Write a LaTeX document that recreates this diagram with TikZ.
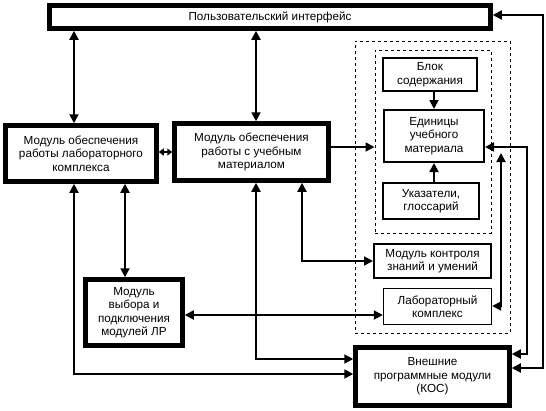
\documentclass[tikz,border=0pt]{standalone}
\usepackage{fontspec}
\setmainfont{Liberation Sans}
\usetikzlibrary{arrows.meta,positioning}

\begin{document}
\begin{tikzpicture}[x=1pt,y=-1pt,
  font=\fontsize{11.7}{13.5}\selectfont,
  heavybox/.style={draw,line width=4.5pt,align=center,inner sep=0pt},
  midbox/.style={draw,line width=2pt,align=center,inner sep=0pt},
  thinbox/.style={draw,line width=1.4pt,align=center,inner sep=0pt},
  groupbox/.style={draw,dashed,line width=1pt,inner sep=0pt},
  link/.style={line width=1.8pt,{Triangle[length=9pt,width=9pt]}-{Triangle[length=9pt,width=9pt]}},
  into/.style={line width=1.8pt,-{Triangle[length=9pt,width=9pt]}}]
  \useasboundingbox (0,0) rectangle (546,410);

  % Dashed groups
  \node[groupbox,minimum width=155pt,minimum height=292pt] (outer) at (432.5,187) {};
  \node[groupbox,minimum width=116pt,minimum height=183pt] (inner) at (433,141.5) {};

  % Main modules
  \node[heavybox,minimum width=441pt,minimum height=23pt] (ui) at (270,17) {Пользовательский интерфейс};
  \node[heavybox,minimum width=151pt,minimum height=56pt] (labmod) at (81,153.5) {Модуль обеспечения\\работы лабораторного\\комплекса};
  \node[heavybox,minimum width=154pt,minimum height=57pt] (matmod) at (251.5,152) {Модуль обеспечения\\работы с учебным\\материалом};
  \node[heavybox,minimum width=97pt,minimum height=66pt] (select) at (134,312.5) {Модуль\\выбора и\\подключения\\модулей ЛР};
  \node[heavybox,minimum width=154pt,minimum height=58pt] (extern) at (432.5,376.5) {Внешние\\программные модули\\(КОС)};

  % Content of the material
  \node[midbox,minimum width=94pt,minimum height=33pt] (contents) at (430,74.5) {Блок\\содержания};
  \node[midbox,minimum width=100pt,minimum height=52pt] (units) at (434,136) {Единицы\\учебного\\материала};
  \node[midbox,minimum width=96pt,minimum height=36pt] (index) at (431,201) {Указатели,\\глоссарий};
  \node[midbox,minimum width=117pt,minimum height=34pt] (control) at (432.5,261) {Модуль контроля\\знаний и умений};
  \node[thinbox,minimum width=108pt,minimum height=36pt] (lab) at (437.5,306.5) {Лабораторный\\комплекс};

  % Columns of the connectors
  \coordinate (xa) at (74,0);
  \coordinate (xb) at (125,0);
  \coordinate (xc) at (256,0);
  \coordinate (xd) at (302,0);
  \coordinate (xe) at (501,0);
  \coordinate (xf) at (527,0);
  \coordinate (xg) at (543,0);

  % Interface links
  \draw[link] (ui.south -| xa) -- (labmod.north -| xa);
  \draw[link] (ui.south -| xc) -- (matmod.north -| xc);
  \draw[line width=1.8pt,{Triangle[length=5pt,width=7pt]}-{Triangle[length=5pt,width=7pt]}] (labmod.east |- matmod) -- (matmod.west);
  \draw[into] (matmod.east |- 0,147) -- (inner.west |- 0,147);

  % Down to the lower modules
  \draw[link] (labmod.south -| xb) -- (select.north -| xb);
  \draw[link] (labmod.south -| xa) |- (extern.west |- 0,374);
  \draw[link] (matmod.south -| xc) |- (extern.west |- 0,359);
  \draw[link] (matmod.south -| xd) |- (control.west);
  \draw[link] (select.east |- 0,315) -- (lab.west |- 0,315);

  % Inside the material block
  \draw[into] (contents.south -| units) -- (units.north);
  \draw[into] (index.north -| units) -- (units.south);

  % Right-hand return lines
  \draw[link] (units.east |- 0,147) -| (xf |- 0,354) -- (extern.east |- 0,354);
  \draw[link] (lab.east |- 0,306) -| (xe |- 0,153);
  \draw[link] (ui.east |- 0,15) -| (xg |- 0,368) -- (extern.east |- 0,368);
\end{tikzpicture}
\end{document}
